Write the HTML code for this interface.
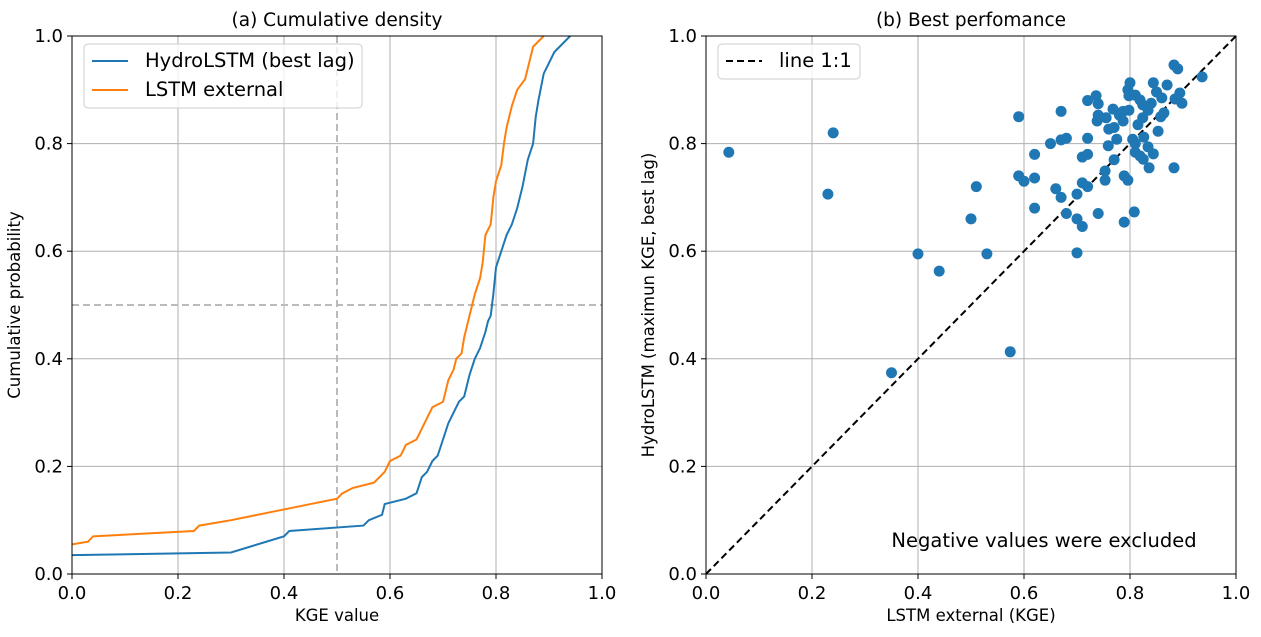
<!DOCTYPE html>
<html><head><meta charset="utf-8"><style>
body{margin:0;background:#fff;}
svg{display:block;font-family:"DejaVu Sans","Liberation Sans",sans-serif;}
</style></head><body>
<svg id="c" width="1261" height="637"></svg>
<script>
const blueCdfX=[0,0.3,0.4,0.41,0.55,0.56,0.585,0.59,0.63,0.65,0.66,0.67,0.68,0.69,0.70,0.71,0.72,0.73,0.74,0.75,0.76,0.77,0.78,0.785,0.79,0.795,0.80,0.81,0.82,0.83,0.84,0.85,0.86,0.87,0.875,0.88,0.89,0.90,0.91,0.94];
const blueCdfY=[0.035,0.04,0.07,0.08,0.09,0.10,0.11,0.13,0.14,0.15,0.18,0.19,0.21,0.22,0.25,0.28,0.30,0.32,0.33,0.37,0.40,0.42,0.45,0.47,0.48,0.52,0.57,0.60,0.63,0.65,0.68,0.72,0.77,0.80,0.85,0.88,0.93,0.95,0.97,1.0];
const orangeCdfX=[0,0.03,0.04,0.23,0.24,0.3,0.4,0.45,0.5,0.51,0.53,0.57,0.59,0.6,0.62,0.63,0.65,0.66,0.67,0.68,0.70,0.705,0.71,0.72,0.725,0.735,0.74,0.745,0.75,0.76,0.77,0.775,0.78,0.79,0.795,0.80,0.81,0.815,0.82,0.83,0.84,0.855,0.86,0.87,0.88,0.89];
const orangeCdfY=[0.055,0.06,0.07,0.08,0.09,0.10,0.12,0.13,0.14,0.15,0.16,0.17,0.19,0.21,0.22,0.24,0.25,0.27,0.29,0.31,0.32,0.34,0.36,0.38,0.40,0.41,0.44,0.46,0.48,0.52,0.55,0.58,0.63,0.65,0.70,0.73,0.76,0.80,0.83,0.87,0.90,0.92,0.94,0.98,0.99,1.0];
const scatterX=[0.043,0.23,0.24,0.40,0.44,0.35,0.574,0.59,0.67,0.51,0.50,0.53,0.70,0.59,0.60,0.62,0.62,0.62,0.65,0.67,0.68,0.66,0.67,0.68,0.70,0.71,0.70,0.71,0.72,0.74,0.71,0.72,0.72,0.72,0.736,0.74,0.738,0.74,0.755,0.768,0.76,0.77,0.759,0.77,0.753,0.753,0.775,0.78,0.787,0.787,0.798,0.789,0.796,0.789,0.808,0.80,0.796,0.798,0.81,0.819,0.824,0.815,0.824,0.826,0.834,0.81,0.819,0.825,0.836,0.844,0.853,0.858,0.864,0.834,0.84,0.844,0.85,0.86,0.87,0.883,0.883,0.89,0.936,0.894,0.898,0.885,0.81,0.805];
const scatterY=[0.784,0.706,0.82,0.595,0.563,0.374,0.413,0.85,0.86,0.72,0.66,0.595,0.597,0.74,0.73,0.736,0.78,0.68,0.80,0.807,0.81,0.716,0.70,0.67,0.66,0.646,0.706,0.727,0.72,0.67,0.775,0.78,0.81,0.88,0.889,0.874,0.842,0.853,0.848,0.864,0.827,0.83,0.796,0.77,0.749,0.732,0.808,0.853,0.842,0.86,0.862,0.74,0.732,0.654,0.673,0.913,0.90,0.889,0.89,0.881,0.872,0.835,0.848,0.812,0.794,0.784,0.777,0.771,0.755,0.781,0.823,0.85,0.857,0.862,0.875,0.913,0.896,0.885,0.909,0.755,0.946,0.939,0.924,0.894,0.875,0.883,0.80,0.808];
const ticks=[0,0.2,0.4,0.6,0.8,1.0];
const tickLabels=["0.0","0.2","0.4","0.6","0.8","1.0"];

const svg=document.getElementById('c');
const NS="http://www.w3.org/2000/svg";
function mk(tag,attrs,parent,text){const e=document.createElementNS(NS,tag);for(const k in attrs)e.setAttribute(k,attrs[k]);if(text!==undefined)e.textContent=text;(parent||svg).appendChild(e);return e;}
const Y0=574,Y1=36;
function sy(v){return Y0-(Y1-Y0)*-v;}
function axes(x0,title,xl,yl,name){
  const g=mk('g',{});
  
  
  const sx=v=>x0+530*v;
  ticks.forEach((t,i)=>{
    const gl=mk('line',{x1:sx(t),x2:sx(t),y1:Y1,y2:Y0,stroke:'#b0b0b0','stroke-width':1},g);
    
    const gh=mk('line',{x1:x0,x2:x0+530,y1:sy(t),y2:sy(t),stroke:'#b0b0b0','stroke-width':1},g);
    
    mk('line',{x1:sx(t),x2:sx(t),y1:Y0,y2:Y0+5,stroke:'#000'},g);
    mk('line',{x1:x0-5,x2:x0,y1:sy(t),y2:sy(t),stroke:'#000'},g);
    const xt=mk('text',{x:sx(t),y:Y0+25,'font-size':18,'text-anchor':'middle'},g,tickLabels[i]);
    
    const yt=mk('text',{x:x0-9,y:sy(t)+6,'font-size':18,'text-anchor':'end'},g,tickLabels[i]);
    
  });
  const tt=mk('text',{x:x0+265,y:26,'font-size':18.5,'text-anchor':'middle'},g,title);
  
  const xa=mk('text',{x:x0+265,y:621,'font-size':16.5,'text-anchor':'middle'},g,xl);
  
  const ya=mk('text',{x:0,y:0,'font-size':16.5,'text-anchor':'middle',transform:`translate(${x0-52},${(Y0+Y1)/2}) rotate(-90)`},g,yl);
  
  return {g,sx};
}
// Left
const L=axes(72,'(a) Cumulative density','KGE value','Cumulative probability','cdf-panel');
const v1=mk('line',{x1:L.sx(0.5),x2:L.sx(0.5),y1:Y1,y2:Y0,stroke:'#bbb','stroke-width':2,'stroke-dasharray':'7,4'},L.g);

const h1=mk('line',{x1:72,x2:602,y1:sy(0.5),y2:sy(0.5),stroke:'#bbb','stroke-width':2,'stroke-dasharray':'7,4'},L.g);

function poly(xs,ys,col,name){
  const p=mk('polyline',{points:xs.map((x,i)=>L.sx(x)+','+sy(ys[i])).join(' '),fill:'none',stroke:col,'stroke-width':2},L.g);
  
}
poly(blueCdfX,blueCdfY,'#1f77b4','hydrolstm-cdf-line');
poly(orangeCdfX,orangeCdfY,'#ff7f0e','lstm-external-cdf-line');
mk('rect',{x:72,y:36,width:530,height:538,fill:'none',stroke:'#000','stroke-width':1},L.g);
const lg=mk('g',{},L.g);

mk('rect',{x:84,y:44,width:278,height:64,rx:4,fill:'#fff','fill-opacity':0.8,stroke:'#ccc'},lg);
mk('line',{x1:92,x2:128,y1:61,y2:61,stroke:'#1f77b4','stroke-width':2},lg);
mk('text',{x:145,y:67,'font-size':19.5},lg,'HydroLSTM (best lag)');
mk('line',{x1:92,x2:128,y1:90,y2:90,stroke:'#ff7f0e','stroke-width':2},lg);
mk('text',{x:145,y:96,'font-size':19.5},lg,'LSTM external');
// Right
const R=axes(706,'(b) Best perfomance','LSTM external (KGE)','HydroLSTM (maximun KGE, best lag)','scatter-panel');
const d=mk('line',{x1:R.sx(0),y1:sy(0),x2:R.sx(1),y2:sy(1),stroke:'#000','stroke-width':2,'stroke-dasharray':'7,4'},R.g);

scatterX.forEach((x,i)=>{
  const c=mk('circle',{cx:R.sx(x),cy:sy(scatterY[i]),r:5.5,fill:'#1f77b4'},R.g);
  
  
});
mk('rect',{x:706,y:36,width:530,height:538,fill:'none',stroke:'#000','stroke-width':1},R.g);
const an=mk('text',{x:1044,y:547,'font-size':19.5,'text-anchor':'middle'},R.g,'Negative values were excluded');

const lg2=mk('g',{},R.g);

mk('rect',{x:718,y:44,width:142,height:35,rx:4,fill:'#fff','fill-opacity':0.8,stroke:'#ccc'},lg2);
mk('line',{x1:726,x2:762,y1:61,y2:61,stroke:'#000','stroke-width':2,'stroke-dasharray':'7,4'},lg2);
mk('text',{x:779,y:67,'font-size':19.5},lg2,'line 1:1');
</script>
</body></html>
